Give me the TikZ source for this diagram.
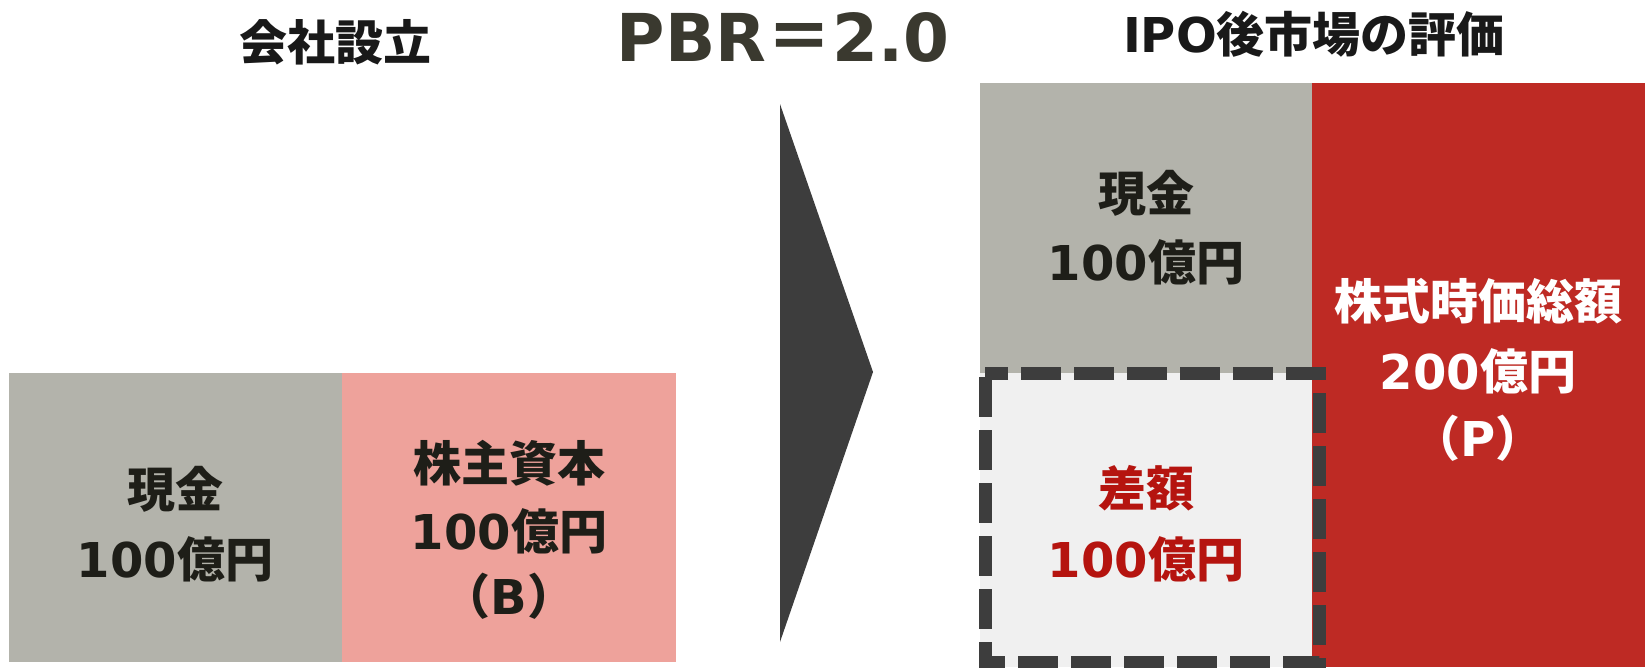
\documentclass[tikz,border=0pt]{standalone}
\usepackage{fontspec}
\newfontfamily\jpfont{Noto Sans CJK JP}
\newfontfamily\latfont{DejaVu Sans}
\newcommand\Jp[1]{{\jpfont\bfseries #1}}
\newcommand\La[1]{{\latfont\bfseries #1}}
\definecolor{cgray}{HTML}{B3B3AB}
\definecolor{cpink}{HTML}{EEA29B}
\definecolor{cred}{HTML}{BE2A24}
\definecolor{clight}{HTML}{F0F0F0}
\definecolor{cdark}{HTML}{3D3D3D}
\definecolor{ctxt}{HTML}{1E1E18}
\definecolor{credtxt}{HTML}{B5140F}
\definecolor{cpbr}{HTML}{3A392F}
\tikzset{
  lbl/.style={anchor=base, inner sep=0pt, font=\fontsize{48}{58}\selectfont, text=ctxt},
  wlbl/.style={lbl, text=white},
  rlbl/.style={lbl, text=credtxt},
  ttl/.style={anchor=base, inner sep=0pt, font=\fontsize{48}{58}\selectfont, text=black!90},
  dashbox/.style={draw=cdark, line width=13pt, dash pattern=on 40pt off 13pt, dash phase=-4pt}
}
\begin{document}
\begin{tikzpicture}[x=1pt,y=-1pt]
\useasboundingbox (0,0) rectangle (1645,667);
% left balance
\fill[cgray] (9,373) rectangle (342,662);
\fill[cpink] (342,373) rectangle (676,662);
% arrow
\fill[cdark] (780,104) -- (873,372) -- (780,642) -- cycle;
% right side
\fill[cgray] (980,83) rectangle (1312,373);
\fill[cred] (1312,83) rectangle (1645,667);
\fill[clight] (980,373) rectangle (1312,667);
\draw[dashbox] (985,373) rectangle (1319,662);
% titles
\node[ttl] (t1) at (335,60) {\Jp{会社設立}};
\node[anchor=base, inner sep=0pt, font=\fontsize{66}{70}\selectfont, text=cpbr] (pbr) at (783,61) {\La{PBR}\Jp{＝}\La{2.0}};
\node[ttl] (t2) at (1314,52) {\La{IPO}\Jp{後市場の評価}};
% left texts
\node[lbl] (a1) at (175,507) {\Jp{現金}};
\node[lbl] (a2) at (175,577) {\La{100}\Jp{億円}};
\node[lbl] (b1) at (509,481) {\Jp{株主資本}};
\node[lbl] (b2) at (509,549) {\La{100}\Jp{億円}};
\node[lbl] (b3) at (509,614) {\Jp{（}\La{B}\Jp{）}};
% right texts
\node[lbl] (c1) at (1146,211) {\Jp{現金}};
\node[lbl] (c2) at (1146,280) {\La{100}\Jp{億円}};
\node[wlbl] (d1) at (1478,319) {\Jp{株式時価総額}};
\node[wlbl] (d2) at (1478,389) {\La{200}\Jp{億円}};
\node[wlbl] (d3) at (1478,456) {\Jp{（}\La{P}\Jp{）}};
\node[rlbl] (e1) at (1146,506) {\Jp{差額}};
\node[rlbl] (e2) at (1146,577) {\La{100}\Jp{億円}};
\end{tikzpicture}
\end{document}
